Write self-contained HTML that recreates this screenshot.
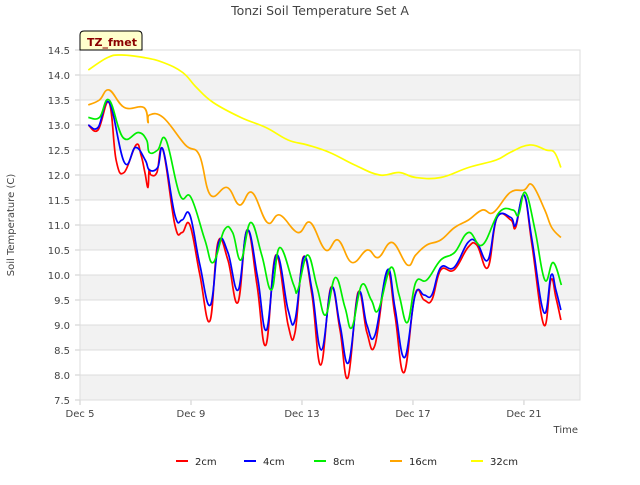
<!DOCTYPE html>
<html><head><meta charset="utf-8"><style>
body{margin:0;background:#fff;font-family:"Liberation Sans","DejaVu Sans",sans-serif}
</style></head><body>
<svg width="640" height="480" xmlns="http://www.w3.org/2000/svg" id="chart" font-family="DejaVu Sans, Liberation Sans, sans-serif">
<rect width="640" height="480" fill="#fff"/>
<g id="grid"></g>
<g id="series"></g>
<g id="axes"></g>
<text x="320" y="15" text-anchor="middle" font-size="12.5" fill="#444">Tonzi Soil Temperature Set A</text>
<text x="14" y="225" text-anchor="middle" font-size="10" fill="#444" transform="rotate(-90 14 225)">Soil Temperature (C)</text>
<text x="578" y="433" text-anchor="end" font-size="10" fill="#444">Time</text>
<g>
<path d="M80,50 L80,35 Q80,31 84,31 L138,31 Q142,31 142,35 L142,50 Z" fill="#ffffcc" stroke="#000" stroke-width="1"/>
<text x="87" y="46" font-size="11" font-weight="bold" fill="#8b0000">TZ_fmet</text>
</g>
<g id="legend"></g>
</svg>
<script>
const yTicks=[7.5,8.0,8.5,9.0,9.5,10.0,10.5,11.0,11.5,12.0,12.5,13.0,13.5,14.0,14.5];
const xTickDays=[0,4,8,12,16];
const xTickLabels=["Dec 5","Dec 9","Dec 13","Dec 17","Dec 21"];
const seriesNames=["2cm","4cm","8cm","16cm","32cm"];
const seriesColors=["#ff0000","#0000ff","#00ee00","#ffa500","#ffff00"];
const s2cm=[[0.3,13.0],[0.65,12.9],[1.05,13.45],[1.3,12.3],[1.59,12.05],[2.02,12.6],[2.2,12.4],[2.34,12.05],[2.45,11.75],[2.49,12.1],[2.56,12.0],[2.77,12.05],[2.99,12.5],[3.42,11.0],[3.68,10.85],[3.96,11.0],[4.32,10.0],[4.68,9.08],[4.97,10.65],[5.33,10.3],[5.69,9.45],[6.02,10.9],[6.38,9.8],[6.7,8.6],[7.06,10.4],[7.5,9.0],[7.75,8.85],[8.04,10.35],[8.36,9.6],[8.68,8.2],[9.04,9.75],[9.37,8.9],[9.66,7.95],[10.02,9.65],[10.34,8.85],[10.63,8.6],[11.06,10.05],[11.35,9.2],[11.68,8.05],[12.07,9.6],[12.4,9.5],[12.68,9.5],[13.0,10.1],[13.48,10.1],[13.98,10.55],[14.3,10.6],[14.7,10.15],[15.03,11.15],[15.53,11.1],[15.7,10.95],[16.0,11.6],[16.29,10.6],[16.72,9.0],[16.97,9.9],[17.15,9.55],[17.33,9.1]];
const s4cm=[[0.3,13.0],[0.65,12.95],[1.05,13.45],[1.6,12.25],[2.0,12.55],[2.35,12.3],[2.5,12.1],[2.8,12.15],[3.0,12.5],[3.42,11.2],[3.68,11.1],[3.96,11.2],[4.32,10.2],[4.7,9.4],[5.0,10.65],[5.33,10.45],[5.7,9.7],[6.03,10.9],[6.4,9.95],[6.72,8.9],[7.08,10.4],[7.5,9.3],[7.75,9.1],[8.06,10.35],[8.36,9.7],[8.7,8.5],[9.06,9.75],[9.37,9.0],[9.68,8.25],[10.04,9.65],[10.34,9.0],[10.63,8.8],[11.08,10.1],[11.35,9.35],[11.7,8.35],[12.08,9.6],[12.4,9.6],[12.68,9.6],[13.0,10.15],[13.48,10.15],[13.98,10.65],[14.3,10.65],[14.7,10.3],[15.03,11.15],[15.53,11.15],[15.7,11.0],[16.0,11.6],[16.29,10.7],[16.72,9.25],[16.98,10.0],[17.15,9.7],[17.33,9.3]];
const s8cm=[[0.3,13.15],[0.7,13.15],[1.05,13.5],[1.55,12.75],[2.1,12.85],[2.4,12.7],[2.5,12.45],[2.8,12.5],[3.1,12.7],[3.6,11.6],[4.0,11.55],[4.5,10.7],[4.8,10.25],[5.2,10.9],[5.5,10.85],[5.8,10.3],[6.15,11.05],[6.55,10.4],[6.9,9.7],[7.2,10.55],[7.7,9.8],[7.85,9.7],[8.2,10.4],[8.55,9.75],[8.85,9.2],[9.2,9.95],[9.55,9.35],[9.8,8.95],[10.15,9.8],[10.5,9.5],[10.75,9.3],[11.2,10.15],[11.5,9.6],[11.8,9.05],[12.1,9.85],[12.5,9.9],[13.0,10.3],[13.5,10.45],[14.0,10.85],[14.5,10.6],[15.1,11.25],[15.6,11.3],[15.8,11.2],[16.05,11.65],[16.4,10.9],[16.75,9.9],[17.05,10.25],[17.35,9.8]];
const s16cm=[[0.3,13.4],[0.7,13.5],[1.05,13.7],[1.6,13.35],[2.3,13.35],[2.45,13.05],[2.5,13.2],[3.0,13.15],[3.8,12.6],[4.3,12.4],[4.7,11.6],[5.3,11.75],[5.75,11.4],[6.2,11.65],[6.75,11.05],[7.2,11.2],[7.85,10.85],[8.3,11.05],[8.85,10.5],[9.3,10.7],[9.8,10.25],[10.35,10.5],[10.75,10.35],[11.25,10.65],[11.8,10.2],[12.1,10.4],[12.5,10.6],[13.0,10.7],[13.5,10.95],[14.0,11.1],[14.5,11.3],[14.9,11.25],[15.5,11.65],[16.0,11.7],[16.3,11.8],[16.75,11.3],[17.0,10.95],[17.33,10.75]];
const s32cm=[[0.3,14.1],[1.0,14.35],[1.5,14.4],[2.3,14.35],[3.0,14.25],[3.7,14.05],[4.2,13.75],[4.8,13.45],[5.8,13.15],[6.7,12.95],[7.5,12.7],[8.2,12.6],[9.0,12.45],[9.9,12.2],[10.8,12.0],[11.5,12.05],[12.1,11.95],[13.0,11.95],[14.0,12.15],[15.0,12.3],[15.5,12.45],[16.2,12.6],[16.8,12.5],[17.1,12.45],[17.33,12.15]];
const allSeries=[s2cm,s4cm,s8cm,s16cm,s32cm];

const X0=80,X1=580,Y0=50,Y1=400,DMIN=0,DMAX=18.02,VMIN=7.5,VMAX=14.5;
const xs=d=>X0+(d-DMIN)/(DMAX-DMIN)*(X1-X0);
const ys=v=>Y1-(v-VMIN)/(VMAX-VMIN)*(Y1-Y0);
const NS="http://www.w3.org/2000/svg";
function mk(tag,attrs,parent){const e=document.createElementNS(NS,tag);for(const k in attrs)e.setAttribute(k,attrs[k]);parent.appendChild(e);return e;}
function smoothPath(pts){
  let d='M'+pts[0][0].toFixed(1)+','+pts[0][1].toFixed(1);
  for(let i=0;i<pts.length-1;i++){
    const p0=pts[Math.max(0,i-1)],p1=pts[i],p2=pts[i+1],p3=pts[Math.min(pts.length-1,i+2)];
    const t=0.2;
    const c1=[p1[0]+(p2[0]-p0[0])*t,p1[1]+(p2[1]-p0[1])*t];
    const c2=[p2[0]-(p3[0]-p1[0])*t,p2[1]-(p3[1]-p1[1])*t];
    d+=' C'+c1[0].toFixed(1)+','+c1[1].toFixed(1)+' '+c2[0].toFixed(1)+','+c2[1].toFixed(1)+' '+p2[0].toFixed(1)+','+p2[1].toFixed(1);
  }
  return d;
}
const grid=document.getElementById('grid'),axes=document.getElementById('axes'),ser=document.getElementById('series'),leg=document.getElementById('legend');
const bg=mk('rect',{x:X0,y:Y0,width:X1-X0,height:Y1-Y0,fill:'#fff'},grid);


for(let i=0;i<yTicks.length-1;i++){
  if(i%2===0){const b=mk('rect',{x:X0,y:ys(yTicks[i+1]),width:X1-X0,height:ys(yTicks[i])-ys(yTicks[i+1]),fill:'#f2f2f2'},grid);
  
  }
}
yTicks.forEach(v=>{
  const l=mk('line',{x1:X0,x2:X1,y1:ys(v),y2:ys(v),stroke:'#dcdcdc','stroke-width':1},grid);
  
  
  const t=mk('text',{x:X0-10,y:ys(v)+4,'text-anchor':'end','font-size':10,fill:'#444'},axes);
  t.textContent=v.toFixed(1);
  
  
  mk('line',{x1:X0-5,x2:X0,y1:ys(v),y2:ys(v),stroke:'#ccc'},axes);
});
xTickDays.forEach((d,i)=>{
  const t=mk('text',{x:xs(d),y:Y1+17,'text-anchor':'middle','font-size':10,fill:'#444'},axes);
  t.textContent=xTickLabels[i];
  
  
  mk('line',{x1:xs(d),x2:xs(d),y1:Y1,y2:Y1+5,stroke:'#ccc'},axes);
});
mk('rect',{x:X0,y:Y0,width:X1-X0,height:Y1-Y0,fill:'none',stroke:'#ddd'},axes);
allSeries.forEach((s,i)=>{
  const pts=s.map(q=>[xs(q[0]),ys(q[1])]);
  const p=mk('path',{d:smoothPath(pts),fill:'none',stroke:seriesColors[i],'stroke-width':1.7,'stroke-linejoin':'round'},ser);
  
  
});
const legX=[176,244,314,390,471];
seriesNames.forEach((n,i)=>{
  const g=mk('g',{},leg);
  
  
  mk('line',{x1:legX[i],x2:legX[i]+12,y1:461,y2:461,stroke:seriesColors[i],'stroke-width':2},g);
  const t=mk('text',{x:legX[i]+19,y:465,'font-size':10,fill:'#222'},g);
  t.textContent=n;
});
</script>
</body></html>
